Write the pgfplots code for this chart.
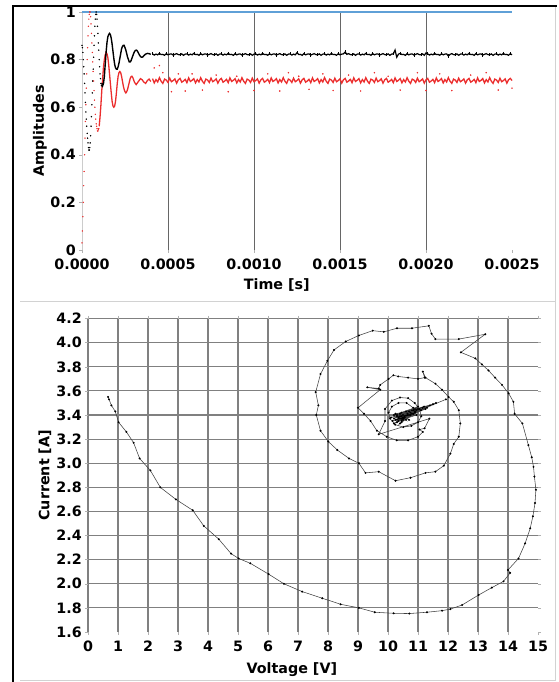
\documentclass[border=0pt]{standalone}
\usepackage{pgfplots}
\pgfplotsset{compat=1.18}
\usepackage{pgfplotstable}
\usepackage{fontspec}
\setmainfont{DejaVu Sans}
\definecolor{myred}{RGB}{235,45,45}
\definecolor{myblue}{RGB}{95,160,215}

% early transient, sampled points (t in microseconds)
\pgfplotstableread{
t k
0 0.86
2.5 0.85
5 0.83
7.5 0.80
10 0.77
12.5 0.74
15 0.70
17.5 0.66
20 0.62
22.5 0.58
25 0.55
27.5 0.52
30 0.49
32.5 0.47
35 0.45
37.5 0.43
40 0.42
42.5 0.42
45 0.43
47.5 0.45
50 0.48
52.5 0.52
55 0.56
57.5 0.61
60 0.66
62.5 0.71
65 0.76
67.5 0.81
70 0.86
72.5 0.90
75 0.94
77.5 0.97
80 0.99
82.5 1.00
85 0.99
87.5 0.97
90 0.94
92.5 0.91
95 0.87
97.5 0.84
100 0.80
102.5 0.77
105 0.74
107.5 0.72
110 0.70
112.5 0.69
}\blackearly

\pgfplotstableread{
t r
0 0.03
2.5 0.08
5 0.14
7.5 0.20
10 0.27
12.5 0.33
15 0.40
17.5 0.47
20 0.54
22.5 0.61
25 0.68
27.5 0.74
30 0.80
32.5 0.85
35 0.90
37.5 0.94
40 0.97
42.5 0.99
45 1.00
47.5 1.00
50 0.98
52.5 0.95
55 0.91
57.5 0.87
60 0.83
62.5 0.79
65 0.75
67.5 0.71
70 0.67
72.5 0.63
75 0.60
77.5 0.57
80 0.55
82.5 0.53
85 0.52
87.5 0.51
90 0.50
92.5 0.50
95 0.505
97.5 0.51
}\redearly

\pgfplotstableread{
t k
115 0.70
120 0.69
125 0.70
130 0.73
135 0.78
140 0.83
145 0.87
150 0.895
155 0.905
160 0.91
165 0.905
170 0.89
175 0.865
180 0.835
185 0.805
190 0.78
195 0.765
200 0.76
205 0.76
210 0.77
215 0.785
220 0.805
225 0.825
230 0.845
235 0.855
240 0.86
245 0.86
250 0.85
255 0.84
260 0.825
265 0.81
270 0.80
275 0.79
280 0.79
285 0.795
290 0.805
295 0.815
300 0.825
305 0.833
310 0.838
315 0.84
320 0.838
325 0.832
330 0.825
335 0.818
340 0.813
345 0.81
350 0.81
355 0.812
360 0.817
370 0.823
380 0.826
390 0.825
400 0.822
}\blacktrans

\pgfplotstableread{
t r
100 0.52
105 0.56
110 0.61
115 0.67
120 0.72
125 0.77
130 0.80
135 0.82
140 0.83
145 0.825
150 0.81
155 0.78
160 0.74
165 0.70
170 0.66
175 0.625
180 0.605
185 0.60
190 0.605
195 0.625
200 0.66
205 0.70
210 0.73
215 0.745
220 0.75
225 0.745
230 0.73
235 0.71
240 0.69
245 0.675
250 0.665
255 0.66
260 0.665
265 0.675
270 0.69
275 0.705
280 0.72
285 0.728
290 0.73
295 0.725
300 0.715
305 0.705
310 0.70
315 0.695
320 0.70
330 0.71
340 0.72
350 0.715
360 0.705
370 0.70
380 0.712
390 0.718
400 0.708
}\redtrans

\pgfplotstableread{
t k r
410 0.824 0.720
420 0.819 0.702
430 0.823 0.716
440 0.820 0.706
450 0.826 0.724
460 0.821 0.709
470 0.822 0.700
480 0.818 0.718
490 0.825 0.714
500 0.820 0.704
510 0.823 0.722
520 0.824 0.707
530 0.819 0.712
540 0.822 0.719
550 0.825 0.701
560 0.821 0.715
570 0.820 0.721
580 0.824 0.705
590 0.818 0.710
600 0.823 0.717
610 0.824 0.703
620 0.819 0.723
630 0.823 0.708
640 0.820 0.713
650 0.826 0.720
660 0.821 0.702
670 0.822 0.716
680 0.818 0.706
690 0.825 0.724
700 0.820 0.709
710 0.823 0.700
720 0.824 0.718
730 0.819 0.714
740 0.822 0.704
750 0.825 0.722
760 0.821 0.707
770 0.820 0.712
780 0.824 0.719
790 0.818 0.701
800 0.823 0.715
810 0.824 0.721
820 0.819 0.705
830 0.823 0.710
840 0.820 0.717
850 0.826 0.703
860 0.821 0.723
870 0.822 0.708
880 0.818 0.713
890 0.825 0.720
900 0.820 0.702
910 0.823 0.716
920 0.824 0.706
930 0.819 0.724
940 0.822 0.709
950 0.825 0.700
960 0.821 0.718
970 0.820 0.714
980 0.824 0.704
990 0.818 0.722
1000 0.823 0.707
1010 0.824 0.712
1020 0.819 0.719
1030 0.823 0.701
1040 0.820 0.715
1050 0.826 0.721
1060 0.821 0.705
1070 0.822 0.710
1080 0.818 0.717
1090 0.825 0.703
1100 0.820 0.723
1110 0.823 0.708
1120 0.824 0.713
1130 0.819 0.720
1140 0.822 0.702
1150 0.825 0.716
1160 0.821 0.706
1170 0.820 0.724
1180 0.824 0.709
1190 0.818 0.700
1200 0.823 0.718
1210 0.824 0.714
1220 0.819 0.704
1230 0.823 0.722
1240 0.820 0.707
1250 0.829 0.712
1260 0.821 0.719
1270 0.822 0.701
1280 0.818 0.715
1290 0.825 0.721
1300 0.820 0.705
1310 0.823 0.710
1320 0.824 0.717
1330 0.819 0.703
1340 0.822 0.723
1350 0.825 0.708
1360 0.821 0.713
1370 0.820 0.720
1380 0.824 0.702
1390 0.818 0.716
1400 0.823 0.706
1410 0.824 0.724
1420 0.819 0.709
1430 0.823 0.700
1440 0.820 0.718
1450 0.826 0.714
1460 0.821 0.704
1470 0.822 0.722
1480 0.818 0.707
1490 0.825 0.712
1500 0.820 0.719
1510 0.823 0.701
1520 0.824 0.715
1530 0.832 0.721
1540 0.822 0.705
1550 0.825 0.710
1560 0.821 0.717
1570 0.820 0.703
1580 0.824 0.723
1590 0.818 0.708
1600 0.823 0.713
1610 0.824 0.720
1620 0.819 0.702
1630 0.823 0.716
1640 0.820 0.706
1650 0.826 0.724
1660 0.821 0.709
1670 0.822 0.700
1680 0.818 0.718
1690 0.825 0.714
1700 0.820 0.704
1710 0.823 0.722
1720 0.824 0.707
1730 0.819 0.712
1740 0.822 0.719
1750 0.825 0.701
1760 0.821 0.715
1770 0.820 0.721
1780 0.824 0.705
1790 0.818 0.710
1800 0.823 0.717
1810 0.824 0.703
1820 0.840 0.723
1830 0.810 0.708
1840 0.823 0.713
1850 0.826 0.720
1860 0.821 0.702
1870 0.822 0.716
1880 0.818 0.706
1890 0.825 0.724
1900 0.820 0.709
1910 0.823 0.700
1920 0.824 0.718
1930 0.819 0.714
1940 0.822 0.704
1950 0.825 0.722
1960 0.821 0.707
1970 0.820 0.712
1980 0.824 0.719
1990 0.818 0.701
2000 0.828 0.715
2010 0.824 0.721
2020 0.819 0.705
2030 0.823 0.710
2040 0.820 0.717
2050 0.826 0.703
2060 0.821 0.723
2070 0.822 0.708
2080 0.818 0.713
2090 0.825 0.720
2100 0.820 0.702
2110 0.823 0.716
2120 0.824 0.706
2130 0.815 0.724
2140 0.822 0.709
2150 0.825 0.700
2160 0.821 0.718
2170 0.820 0.714
2180 0.824 0.704
2190 0.818 0.722
2200 0.823 0.707
2210 0.824 0.712
2220 0.819 0.719
2230 0.823 0.701
2240 0.820 0.715
2250 0.826 0.721
2260 0.821 0.705
2270 0.822 0.710
2280 0.818 0.717
2290 0.825 0.703
2300 0.820 0.723
2310 0.823 0.708
2320 0.824 0.713
2330 0.819 0.720
2340 0.822 0.702
2350 0.825 0.716
2360 0.821 0.706
2370 0.820 0.724
2380 0.824 0.709
2390 0.818 0.700
2400 0.823 0.718
2410 0.824 0.714
2420 0.819 0.704
2430 0.823 0.722
2440 0.820 0.707
2450 0.826 0.712
2460 0.821 0.719
2470 0.822 0.701
2480 0.818 0.715
2490 0.825 0.721
2500 0.820 0.712
}\settled

\pgfplotstableread{
t r
420 0.765
450 0.775
470 0.745
520 0.665
560 0.740
600 0.668
640 0.740
700 0.672
780 0.735
850 0.665
900 0.730
1000 0.670
1080 0.740
1150 0.668
1200 0.745
1260 0.730
1320 0.675
1400 0.740
1460 0.670
1550 0.735
1620 0.668
1700 0.745
1780 0.730
1850 0.672
1950 0.745
2000 0.670
2080 0.740
2150 0.670
2260 0.735
2350 0.745
2420 0.672
2500 0.680
}\redout

\tikzset{lbl/.style={font=\fontsize{14.3}{17}\selectfont\bfseries}}

\begin{document}
\begin{tikzpicture}
\useasboundingbox (0pt,0pt) rectangle (558pt,682pt);
\draw[gray!35, line width=0.8pt] (20pt,381pt) -- (556pt,381pt);
\draw[gray!35, line width=0.8pt] (20pt,2pt) -- (556pt,2pt);
\draw[gray!35, line width=0.8pt] (555pt,2pt) -- (555pt,676pt);
\draw[black, line width=2.5pt] (13pt,0pt) -- (13pt,676pt) -- (557pt,676pt);

% ---------------- top panel ----------------
\begin{axis}[
  at={(82pt,432pt)}, anchor=south west, scale only axis,
  width=430pt, height=238pt,
  xmin=0, xmax=2500, ymin=0, ymax=1,
  clip=false,
  xtick={0,500,1000,1500,2000,2500},
  xticklabels={0.0000,0.0005,0.0010,0.0015,0.0020,0.0025},
  ytick={0,0.2,0.4,0.6,0.8,1},
  yticklabels={0,0.2,0.4,0.6,0.8,1},
  minor xtick={500,1000,1500,2000},
  grid=minor, minor grid style={black!60, line width=0.8pt},
  minor tick length=0pt,
  axis lines*=left,
  x axis line style={draw=none},
  y axis line style={draw=gray!40},
  tick align=outside, major tick length=3pt,
  tick style={gray!60, line width=0.5pt},
  /pgf/number format/assume math mode=true,
  tick label style={lbl},
  label style={lbl},
  xticklabel style={anchor=north, inner sep=0pt, yshift=-6pt},
  yticklabel style={anchor=east, inner sep=0pt, xshift=-3pt},
  xlabel={Time [s]}, ylabel={Amplitudes},
  xlabel style={at={(axis description cs:0.453,-0.147)}, anchor=center},
  ylabel style={at={(axis description cs:-0.098,0.5)}, anchor=center},
]
\addplot[myblue, line width=1.6pt] coordinates {(0,1) (2500,1)};
\addplot[only marks, mark=*, mark size=0.5pt, black] table[x=t,y=k] {\blackearly};
\addplot[only marks, mark=*, mark size=0.45pt, myred] table[x=t,y=r] {\redearly};
\addplot[myred, line width=1.3pt] table[x=t,y=r] {\redtrans};
\addplot[myred, line width=1.3pt] table[x=t,y=r] {\settled};
\addplot[only marks, mark=*, mark size=0.55pt, myred] table[x=t,y=r] {\redout};
\addplot[black, line width=1.4pt] table[x=t,y=k] {\blacktrans};
\addplot[black, line width=1.2pt, mark=|, mark size=1.6pt, mark repeat=4, mark options={line width=0.6pt}] table[x=t,y=k] {\settled};
\end{axis}

% ---------------- bottom panel ----------------
\begin{axis}[
  at={(88pt,50pt)}, anchor=south west, scale only axis,
  width=450pt, height=313.4pt,
  xmin=0, xmax=15, ymin=1.6, ymax=4.2,
  xtick={0,1,2,3,4,5,6,7,8,9,10,11,12,13,14,15},
  ytick={1.6,1.8,2.0,2.2,2.4,2.6,2.8,3.0,3.2,3.4,3.6,3.8,4.0,4.2},
  yticklabels={1.6,1.8,2.0,2.2,2.4,2.6,2.8,3.0,3.2,3.4,3.6,3.8,4.0,4.2},
  minor xtick={0,1,2,3,4,5,6,7,8,9,10,11,12,13,14},
  minor ytick={1.8,2.0,2.2,2.4,2.6,2.8,3.0,3.2,3.4,3.6,3.8,4.0,4.2},
  grid=minor, minor grid style={black!50, line width=1.1pt},
  minor tick length=0pt,
  axis line style={draw=none},
  tick align=outside, major tick length=3pt,
  tick style={gray!60, line width=0.5pt},
  /pgf/number format/assume math mode=true,
  tick label style={lbl},
  label style={lbl},
  xticklabel style={anchor=north, inner sep=0pt, yshift=-6pt},
  yticklabel style={anchor=east, inner sep=0pt, xshift=-3pt},
  xlabel={Voltage [V]}, ylabel={Current [A]},
  xlabel style={at={(axis description cs:0.453,-0.121)}, anchor=center},
  ylabel style={at={(axis description cs:-0.096,0.5)}, anchor=center},
]
\addplot[black!75, line width=0.55pt, mark=*, mark size=0.7pt, mark options={black, fill=black}] coordinates {
(0.67,3.55)(0.70,3.53)(0.78,3.48)(0.91,3.43)(1.02,3.34)(1.28,3.26)(1.52,3.17)(1.72,3.04)(2.08,2.94)(2.41,2.80)(2.93,2.70)(3.49,2.61)(3.86,2.48)(4.36,2.37)(4.77,2.25)(5.02,2.21)(5.41,2.17)(6.02,2.08)(6.53,2.00)(7.14,1.935)(7.81,1.88)(8.42,1.83)(9.03,1.80)(9.56,1.764)(10.19,1.755)(10.71,1.753)(11.30,1.764)(11.80,1.777)(12.08,1.79)(12.47,1.824)(13.02,1.907)(13.46,1.968)(13.85,2.02)(14.07,2.09)(14.00,2.115)(14.35,2.21)(14.57,2.335)(14.74,2.46)(14.83,2.56)(14.90,2.67)(14.93,2.78)(14.88,2.89)(14.85,2.97)(14.79,3.05)(14.68,3.15)(14.48,3.33)(14.22,3.41)(14.18,3.51)(14.02,3.58)(13.80,3.65)(13.57,3.71)(13.35,3.77)(13.13,3.82)(12.91,3.87)(12.43,3.92)(13.24,4.07)(12.36,4.03)(11.58,4.03)(11.45,4.075)(11.36,4.14)(10.80,4.12)(10.30,4.12)(9.86,4.09)(9.49,4.10)(9.03,4.06)(8.59,4.01)(8.20,3.94)(7.98,3.85)(7.75,3.74)(7.59,3.59)(7.68,3.48)(7.61,3.40)(7.75,3.27)(8.01,3.18)(8.31,3.11)(8.70,3.04)(9.03,3.00)(9.25,2.92)(9.69,2.93)(10.25,2.855)(10.75,2.88)(11.25,2.92)(11.58,2.93)(11.86,2.98)(12.08,3.08)(12.19,3.16)(12.36,3.22)(12.41,3.33)(12.36,3.44)(12.19,3.51)(12.02,3.55)(11.80,3.61)(11.58,3.66)(11.25,3.71)(11.16,3.76)(11.22,3.71)(11.00,3.70)(10.67,3.71)(10.34,3.72)(10.18,3.73)(10.02,3.70)(9.74,3.65)(9.69,3.62)(9.31,3.63)(9.74,3.61)(9.00,3.46)(9.20,3.41)(9.42,3.35)(9.63,3.27)(9.96,3.22)(10.29,3.19)(10.67,3.19)(11.00,3.22)(11.16,3.26)(11.05,3.28)(11.22,3.29)(11.38,3.37)(9.69,3.24)(9.90,3.35)(9.90,3.45)(10.13,3.52)(10.40,3.545)(10.67,3.54)(10.89,3.50)(11.05,3.45)(11.11,3.39)(11.00,3.34)(10.78,3.31)(10.51,3.30)(10.24,3.32)(10.07,3.37)(10.02,3.42)(10.13,3.47)(10.35,3.50)(10.62,3.50)(10.84,3.46)
(10.85,3.44)(10.20,3.33)(11.00,3.45)(10.30,3.36)(11.93,3.53)(10.40,3.37)(10.90,3.42)(10.15,3.35)(11.20,3.47)(10.35,3.38)(10.80,3.41)(10.25,3.36)(11.30,3.46)(10.45,3.37)(10.70,3.43)(10.30,3.34)(11.10,3.44)(10.50,3.40)(10.60,3.36)(10.40,3.41)(10.90,3.43)(10.45,3.35)(10.75,3.42)(10.50,3.38)(10.65,3.40)(10.55,3.39)
(10.30,3.40)(10.90,3.45)(10.20,3.37)(11.40,3.48)(10.35,3.35)(10.95,3.40)(10.10,3.38)(11.50,3.49)(10.45,3.42)(10.70,3.36)(10.25,3.41)(11.15,3.46)(10.40,3.33)(10.80,3.44)(10.30,3.39)(11.60,3.50)(10.50,3.36)(10.85,3.41)(10.20,3.40)(11.00,3.47)(10.45,3.34)(10.60,3.43)(10.35,3.37)(11.25,3.45)(10.55,3.38)(10.75,3.40)(10.40,3.39)(10.95,3.44)(10.50,3.37)(10.65,3.41)(10.45,3.39)(10.70,3.40)(10.55,3.38)(10.60,3.395)
};
\end{axis}
\end{tikzpicture}
\end{document}
